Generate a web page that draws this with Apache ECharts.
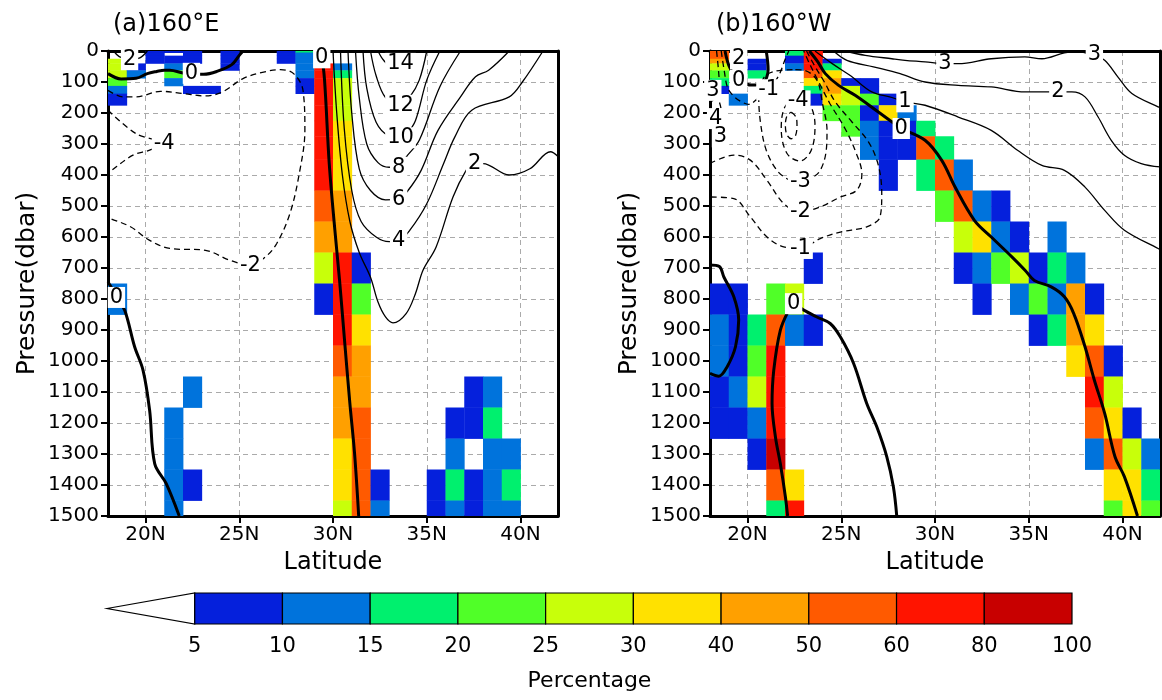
<!DOCTYPE html>
<html><head><meta charset="utf-8">
<script src="https://cdn.jsdelivr.net/npm/echarts@6/dist/echarts.min.js"></script>
<style>html,body{margin:0;padding:0;background:#fff}#c{width:1162px;height:700px}</style>
</head><body><div id="c"></div>
<script>
// ---------------- DATA ----------------
const LEVELS = [0,10,20,30,50,75,100,125,150,200,250,300,400,500,600,700,800,900,1000,1100,1200,1300,1400,1500];
const CLASS_BOUNDS = [5,10,15,20,25,30,40,50,60,80,100];
const CLASS_COLORS = ['#0520dc','#0073dc','#00f06e','#50ff28','#c8ff0a','#ffe100','#ffa000','#ff5a00','#ff1400','#c80000'];
const CB_LABELS = ['5','10','15','20','25','30','40','50','60','80','100'];
const X_TICKS = [20,25,30,35,40];
const TITLES = ['(a)160°E','(b)160°W'];

// cells: [west-edge latitude, pressure level, percentage]
const CELLS_A = [
[18,30,27],[18,50,27],[18,75,27],[18,100,22],[18,125,12],[18,150,7],[18,800,12],
[19,50,7],[19,75,12],
[20,0,7],[20,10,7],[20,20,7],[20,30,7],
[21,0,7],[21,20,7],[21,30,7],[21,50,12],[21,75,22],[21,100,12],[21,1200,12],[21,1300,12],[21,1400,12],[21,1500,12],
[22,0,7],[22,10,7],[22,20,7],[22,30,7],[22,125,7],[22,1100,12],[22,1400,7],
[23,125,7],
[24,0,7],[24,10,7],[24,20,7],[24,30,7],[24,50,7],
[27,0,7],[27,10,7],[27,20,7],[27,30,7],
[28,0,17],[28,10,12],[28,20,12],[28,30,12],[28,50,12],[28,75,12],[28,100,7],[28,125,7],
[29,50,70],[29,75,70],[29,100,70],[29,125,70],[29,150,70],[29,200,70],[29,250,70],[29,300,70],[29,400,70],[29,500,55],[29,600,45],[29,700,27],[29,800,7],
[30,50,12],[30,75,17],[30,100,27],[30,125,27],[30,150,27],[30,200,27],[30,250,35],[30,300,35],[30,400,35],[30,500,45],[30,600,45],[30,700,70],[30,800,70],[30,900,70],[30,1000,55],[30,1100,45],[30,1200,45],[30,1300,35],[30,1400,35],[30,1500,27],
[31,700,7],[31,800,22],[31,900,35],[31,1000,45],[31,1100,45],[31,1200,55],[31,1300,55],[31,1400,55],[31,1500,55],
[32,1400,7],[32,1500,12],
[35,1400,7],[35,1500,7],
[36,1200,7],[36,1300,12],[36,1400,17],[36,1500,12],
[37,1100,7],[37,1200,7],[37,1400,7],[37,1500,7],
[38,1100,12],[38,1200,17],[38,1300,12],[38,1400,12],[38,1500,12],
[39,1300,12],[39,1400,17],[39,1500,12]
];
const CELLS_B = [
[18,0,55],[18,10,55],[18,20,55],[18,30,45],[18,50,27],[18,75,22],[18,100,17],[18,125,7],[18,800,7],[18,900,12],[18,1000,12],[18,1100,7],[18,1200,7],
[19,150,12],[19,800,7],[19,900,7],[19,1000,7],[19,1100,12],[19,1200,7],
[20,30,7],[20,50,7],[20,75,17],[20,900,17],[20,1000,22],[20,1100,27],[20,1200,12],[20,1300,7],
[21,800,22],[21,900,55],[21,1000,70],[21,1100,70],[21,1200,70],[21,1300,90],[21,1400,55],[21,1500,17],
[22,0,17],[22,10,17],[22,20,7],[22,30,7],[22,50,12],[22,800,27],[22,900,12],[22,1400,35],[22,1500,70],
[23,0,70],[23,10,70],[23,20,70],[23,30,70],[23,50,70],[23,75,55],[23,100,35],[23,125,17],[23,150,7],[23,700,7],[23,900,7],
[24,30,7],[24,50,17],[24,75,35],[24,100,45],[24,125,45],[24,150,35],[24,200,22],
[25,100,7],[25,125,27],[25,150,27],[25,200,22],[25,250,22],
[26,100,7],[26,125,7],[26,150,22],[26,200,7],[26,250,12],[26,300,12],
[27,150,7],[27,200,35],[27,250,7],[27,300,7],[27,400,7],
[28,200,12],[28,250,7],[28,300,7],
[29,250,17],[29,300,55],[29,400,17],
[30,300,17],[30,400,55],[30,500,22],
[31,400,12],[31,500,55],[31,600,27],[31,700,7],
[32,500,12],[32,600,35],[32,700,12],[32,800,7],
[33,500,7],[33,600,12],[33,700,22],
[34,600,7],[34,700,27],[34,800,12],
[35,700,7],[35,800,22],[35,900,7],
[36,600,12],[36,700,17],[36,800,12],[36,900,17],
[37,700,12],[37,800,45],[37,900,45],[37,1000,35],
[38,800,7],[38,900,35],[38,1000,55],[38,1100,70],[38,1200,55],[38,1300,12],
[39,1000,7],[39,1100,27],[39,1200,35],[39,1300,55],[39,1400,35],[39,1500,22],
[40,1200,7],[40,1300,27],[40,1400,35],[40,1500,35],
[41,1300,12],[41,1400,17],[41,1500,22]
];

// contour lines (latitude, pressure)
const A_ZERO_TOP = [[18.0,73],[18.7,90],[19.5,88],[20.1,73],[20.6,66],[21.0,62],[21.3,62],[22.0,71],[22.4,74],[23.1,75],[23.8,66],[24.6,44],[25.0,14],[25.2,0]];
const A_ZERO_JET = [[29.25,0],[29.4,20],[29.55,95],[29.8,363],[30.1,578],[30.35,740],[30.6,922],[30.9,1137],[31.15,1298],[31.37,1500]];
const A_ZERO_LOW = [[18.0,745],[18.3,775],[18.45,795],[18.89,836],[19.42,954],[19.87,1030],[20.22,1159],[20.49,1331],[21.1,1395],[21.8,1500]];
const A_POS2_TL = [[18.3,0],[18.6,18],[19.15,28],[19.7,22],[20.1,0]];
const A_POS2 = [[30.0,0],[30.2,200],[30.5,400],[30.9,550],[31.4,650],[32.0,730],[32.4,810],[32.8,858],[33.2,877],[33.9,847],[34.4,782],[34.8,707],[35.5,632],[36.4,471],[37.1,385],[37.5,363],[38.0,363],[39.4,400],[40.5,380],[41.6,325],[42,340]];
const A_POS4 = [[30.4,0],[30.6,250],[31.0,450],[31.5,550],[32.3,600],[33.0,615],[33.5,612],[34.1,578],[35.0,493],[35.9,363],[36.5,277],[37.4,191],[39.4,148],[40.1,100],[41.2,0]];
const A_POS6 = [[30.8,0],[31.0,200],[31.4,380],[32.0,450],[32.8,480],[33.5,478],[34.0,450],[34.7,385],[35.6,256],[36.8,148],[37.6,83],[38.3,62],[39.4,0]];
const A_POS8 = [[31.2,0],[31.4,150],[31.8,300],[32.4,360],[33.0,375],[33.5,375],[33.9,342],[34.6,288],[35.7,115],[36.8,0]];
const A_POS10 = [[31.6,0],[31.8,120],[32.3,230],[33.0,275],[33.6,280],[33.9,270],[34.4,224],[35.0,94],[35.7,0]];
const A_POS12 = [[32.0,0],[32.3,80],[32.8,150],[33.6,175],[34.1,148],[34.6,94],[35.0,0]];
const A_POS14 = [[32.4,0],[32.7,30],[33.1,48],[33.6,40],[34.0,20],[34.4,0]];
const A_NEG2 = [[18.0,127],[18.8,148],[19.5,148],[20.8,130],[22.0,137],[23.2,145],[24.1,132],[25.2,89],[26.3,68],[27.2,60],[27.9,73],[28.4,127],[28.5,256],[28.2,396],[27.7,525],[27.0,621],[26.4,664],[25.6,691],[24.5,675],[23.2,643],[21.3,637],[20.2,610],[19.2,567],[18.1,540],[18.0,537]];
const A_NEG4 = [[18.0,191],[19.51,267],[21.0,299],[20.22,320],[19.33,336],[18.09,390],[18.0,395]];
const A_LABELS = [[22.45,72,'0'],[29.4,22,'0'],[18.45,795,'0'],[19.15,28,'2'],[37.55,363,'2'],[33.5,612,'4'],[33.5,478,'6'],[33.5,375,'8'],[33.6,280,'10'],[33.6,175,'12'],[33.6,40,'14'],[25.6,691,'-2'],[21.0,299,'-4']];

const B_ZERO_MAIN = [[23.3,0],[23.75,35],[24.15,73],[24.86,111],[25.74,143],[26.98,197],[27.96,240],[28.2,250],[29.47,288],[30.36,353],[31.07,439],[32.1,546],[33.0,600],[34.1,664],[34.8,707],[35.3,740],[36.2,761],[36.9,793],[37.4,847],[38.0,954],[38.5,1062],[39.05,1169],[39.6,1309],[40.1,1373],[40.8,1500]];
const B_ZERO_TL = [[18.8,0],[19.0,46],[19.3,80],[19.5,92],[20.2,110],[20.8,105],[21.1,60],[21.0,0]];
const B_ZERO_LOOP = [[18.0,690],[18.5,695],[18.74,729],[19.27,793],[19.53,868],[19.36,954],[18.91,1019],[18.47,1049],[18.0,1040]];
const B_ZERO_LOW = [[22.14,1500],[22.02,1438],[21.75,1331],[21.49,1245],[21.31,1137],[21.4,1030],[21.75,901],[22.2,836],[22.46,815],[23.0,836],[23.7,858],[24.41,879],[24.95,922],[25.66,1008],[26.36,1137],[26.9,1213],[27.43,1309],[27.78,1406],[27.96,1500]];
const B_POS2_TL = [[19.2,0],[19.53,25],[19.9,0]];
const B_POS1 = [[23.6,0],[24.5,40],[25.5,80],[26.63,132],[27.7,150],[28.4,164],[29.47,175],[31.24,213],[33.0,256],[34.4,320],[35.7,369],[36.9,385],[38.0,439],[39.05,514],[40.1,578],[41.9,637],[42,640]];
const B_POS2 = [[24.59,0],[25.3,30],[26.72,51],[28.14,73],[29.47,100],[31.24,111],[33.0,116],[34.8,132],[36.55,132],[37.3,132],[38.0,148],[38.7,213],[39.4,288],[40.1,336],[41.0,363],[42,374]];
const B_POS3 = [[25.2,0],[26.28,14],[27.7,25],[28.4,30],[29.47,35],[30.53,41],[31.24,41],[33.0,25],[34.79,19],[35.7,25],[36.9,6],[37.6,2],[38.5,15],[39.05,30],[39.76,84],[40.5,137],[41.9,180],[42,182]];
const B_NEG1 = [[23.15,0],[23.6,50],[24.1,100],[24.68,164],[25.57,229],[26.45,293],[26.98,369],[27.16,460],[27.07,535],[26.36,567],[24.95,584],[23.88,605],[22.82,637],[21.93,632],[21.04,600],[20.15,535],[19.27,476],[18.0,471]];
const B_NEG1_TL = [[18.6,0],[18.75,60],[18.95,120],[19.34,150],[19.71,165],[20.07,172],[20.6,150],[21.13,125],[21.66,80],[22.02,25],[22.2,0]];
const B_NEG2 = [[18.0,363],[19.27,336],[20.15,352],[21.04,417],[21.93,492],[22.82,519],[23.88,503],[24.95,471],[25.83,449],[26.1,396],[25.8,330],[25.2,250],[24.4,170],[23.8,100],[23.3,40],[23.0,0]];
const B_NEG2_TL = [[18.35,0],[18.45,60],[18.5,110],[18.3,150],[18.0,165]];
const B_NEG3 = [[22.4,60],[21.5,65],[20.89,84],[20.6,150],[20.7,234],[21.0,320],[21.57,385],[22.2,415],[22.82,422],[23.4,410],[23.88,385],[24.2,320],[24.24,256],[24.0,170],[23.7,94],[23.0,62],[22.4,60]];
const B_NEG3_EDGE = [[18.0,110],[18.3,135],[18.6,190],[18.65,250],[18.56,277],[18.3,300],[18.0,310]];
const B_NEG4 = [[22.65,150],[23.3,170],[23.6,240],[23.4,320],[22.8,355],[22.1,330],[21.8,250],[22.0,180],[22.65,150]];
const B_NEG4_EDGE = [[18.0,190],[18.3,218],[18.0,245]];
const B_NEG5 = [[22.33,197],[22.6,215],[22.64,240],[22.55,275],[22.33,283],[22.1,270],[22.02,240],[22.1,210],[22.33,197]];
const B_LABELS = [[28.2,250,'0'],[19.53,94,'0'],[22.46,815,'0'],[19.53,25,'2'],[28.4,164,'1'],[36.55,132,'2'],[30.53,41,'3'],[38.5,12,'3'],[22.82,637,'-1'],[21.13,125,'-1'],[22.82,519,'-2'],[22.82,422,'-3'],[22.7,161,'-4'],[18.15,127,'3'],[18.3,218,'4'],[18.56,277,'3']];

const CONTOURS_A = [
  [A_ZERO_TOP,'zero'],[A_ZERO_JET,'zero'],[A_ZERO_LOW,'zero'],
  [A_POS2_TL,'pos'],[A_POS2,'pos'],[A_POS4,'pos'],[A_POS6,'pos'],[A_POS8,'pos'],[A_POS10,'pos'],[A_POS12,'pos'],[A_POS14,'pos'],
  [A_NEG2,'neg'],[A_NEG4,'neg']
];
const CONTOURS_B = [
  [B_ZERO_MAIN,'zero'],[B_ZERO_TL,'zero'],[B_ZERO_LOOP,'zero'],[B_ZERO_LOW,'zero'],
  [B_POS2_TL,'pos'],[B_POS1,'pos'],[B_POS2,'pos'],[B_POS3,'pos'],
  [B_NEG1,'neg'],[B_NEG1_TL,'neg'],[B_NEG2,'neg'],[B_NEG2_TL,'neg'],[B_NEG3,'neg'],[B_NEG3_EDGE,'neg'],[B_NEG4,'neg'],[B_NEG4_EDGE,'neg'],[B_NEG5,'neg']
];

// ---------------- RENDER ----------------
const FONT = 'DejaVu Sans';
function colorFor(v){
  for (let i=0;i<CLASS_COLORS.length;i++){ if (v>=CLASS_BOUNDS[i] && v<CLASS_BOUNDS[i+1]) return CLASS_COLORS[i]; }
  return v>=100 ? CLASS_COLORS[CLASS_COLORS.length-1] : '#ffffff';
}
function levelBounds(p){
  const i = LEVELS.indexOf(p);
  const top = i===0 ? 0 : (LEVELS[i-1]+p)/2;
  const bot = i===LEVELS.length-1 ? p+50 : (p+LEVELS[i+1])/2;
  return [top,bot];
}
function cellRender(params, api){
  const lat = api.value(0), p = api.value(1), v = api.value(2);
  const b = levelBounds(p);
  const a = api.coord([lat,b[0]]), c = api.coord([lat+1,b[1]]);
  const cs = params.coordSys;
  const r = echarts.graphic.clipRectByRect(
    {x:a[0], y:a[1], width:c[0]-a[0]+0.4, height:c[1]-a[1]+0.4},
    {x:cs.x, y:cs.y, width:cs.width, height:cs.height});
  if (!r) return;
  return {type:'rect', shape:r, style:{fill:colorFor(v)}};
}
function cbRender(params, api){
  const i = api.value(0);
  if (i < 0) {
    const p1 = api.coord([-1,0.5]), p2 = api.coord([0,1]), p3 = api.coord([0,0]);
    return {type:'polygon', shape:{points:[p1,p2,p3]}, style:{fill:'#fff', stroke:'#000', lineWidth:1.2}};
  }
  const a = api.coord([i,1]), c = api.coord([i+1,0]);
  return {type:'rect', shape:{x:a[0], y:a[1], width:c[0]-a[0], height:c[1]-a[1]},
          style:{fill:CLASS_COLORS[i], stroke:'#000', lineWidth:1.2}};
}

const GRIDS = [
  {left:108, top:51, width:450, height:465},
  {left:710, top:51, width:450, height:465},
  {left:107, top:593, width:965, height:31}
];

const axisText = {color:'#000', fontSize:20, fontFamily:FONT};
function mainX(gi){
  return {gridIndex:gi, type:'value', min:18, max:42, position:'bottom',
    name:'Latitude', nameLocation:'middle', nameGap:35,
    nameTextStyle:{color:'#000', fontSize:24, fontFamily:FONT},
    axisLine:{show:true, onZero:false, lineStyle:{color:'#000', width:3}},
    axisTick:{show:true, inside:false, length:7, customValues:X_TICKS, lineStyle:{color:'#000', width:2}},
    axisLabel:Object.assign({margin:9, customValues:X_TICKS, formatter:v=>v+'N'}, axisText),
    splitLine:{show:true, lineStyle:{color:'#aaa', width:1, type:[5,4]}}};
}
function frameX(gi){
  return {gridIndex:gi, type:'value', min:18, max:42, position:'top',
    axisLine:{show:true, onZero:false, lineStyle:{color:'#000', width:3}},
    axisTick:{show:false}, axisLabel:{show:false}, splitLine:{show:false}};
}
function mainY(gi){
  return {gridIndex:gi, type:'value', min:0, max:1500, interval:100, inverse:true, position:'left',
    name:'Pressure(dbar)', nameLocation:'middle', nameGap:68, nameRotate:90,
    nameTextStyle:{color:'#000', fontSize:25, fontFamily:FONT},
    axisLine:{show:true, onZero:false, lineStyle:{color:'#000', width:3}},
    axisTick:{show:true, inside:false, length:7, lineStyle:{color:'#000', width:2}},
    axisLabel:Object.assign({margin:9, formatter:v=>String(v)}, axisText),
    splitLine:{show:true, lineStyle:{color:'#aaa', width:1, type:[5,4]}}};
}
function frameY(gi){
  return {gridIndex:gi, type:'value', min:0, max:1500, inverse:true, position:'right',
    axisLine:{show:true, onZero:false, lineStyle:{color:'#000', width:3}},
    axisTick:{show:false}, axisLabel:{show:false}, splitLine:{show:false}};
}

const series = [];
series.push({type:'custom', xAxisIndex:0, yAxisIndex:0, renderItem:cellRender, data:CELLS_A, silent:true, z:2});
series.push({type:'custom', xAxisIndex:1, yAxisIndex:1, renderItem:cellRender, data:CELLS_B, silent:true, z:2});
function addContours(list, xi, yi){
  list.forEach(([pts, kind])=>{
    series.push({type:'line', xAxisIndex:xi, yAxisIndex:yi, data:pts, showSymbol:false, symbol:'none',
      smooth:0.35, silent:true, z:5, clip:true,
      lineStyle:{color:'#000', width: kind==='zero'?3:1.3, type: kind==='neg'?[6,4]:'solid'}});
  });
}
addContours(CONTOURS_A, 0, 0);
addContours(CONTOURS_B, 1, 1);
function addLabels(list, xi, yi){
  series.push({type:'scatter', xAxisIndex:xi, yAxisIndex:yi, data:list, symbolSize:1, silent:true, z:8,
    itemStyle:{color:'#fff', opacity:1},
    label:{show:true, position:'inside', formatter:p=>p.data[2], color:'#000', opacity:1, fontSize:21, fontFamily:FONT,
      backgroundColor:'#fff', padding:[0,2]}});
}
addLabels(A_LABELS, 0, 0);
addLabels(B_LABELS, 1, 1);
series.push({type:'custom', xAxisIndex:4, yAxisIndex:4, renderItem:cbRender,
  data:[-1,0,1,2,3,4,5,6,7,8,9].map(i=>[i]), silent:true, z:3});

const option = {
  animation:false,
  backgroundColor:'#fff',
  title: TITLES.map((t,i)=>({text:t, left: i===0?108:711, top:8,
    textStyle:{color:'#000', fontSize:24, fontWeight:'normal', fontFamily:FONT}})),
  grid: GRIDS.map(g=>Object.assign({containLabel:false}, g)),
  xAxis: [mainX(0), mainX(1), frameX(0), frameX(1),
    {gridIndex:2, type:'value', min:-1, max:10, interval:1,
     name:'Percentage', nameLocation:'middle', nameGap:46,
     nameTextStyle:{color:'#000', fontSize:22, fontFamily:FONT},
     axisLine:{show:false}, axisTick:{show:false}, splitLine:{show:false},
     axisLabel:Object.assign({margin:12, formatter:v=> v>=0 ? CB_LABELS[v] : ''}, axisText, {fontSize:21})}],
  yAxis: [mainY(0), mainY(1), frameY(0), frameY(1),
    {gridIndex:2, type:'value', min:0, max:1, show:false}],
  series: series
};
const chart = echarts.init(document.getElementById('c'), null, {renderer:'canvas', width:1162, height:700});
chart.setOption(option);
</script>
</body></html>
